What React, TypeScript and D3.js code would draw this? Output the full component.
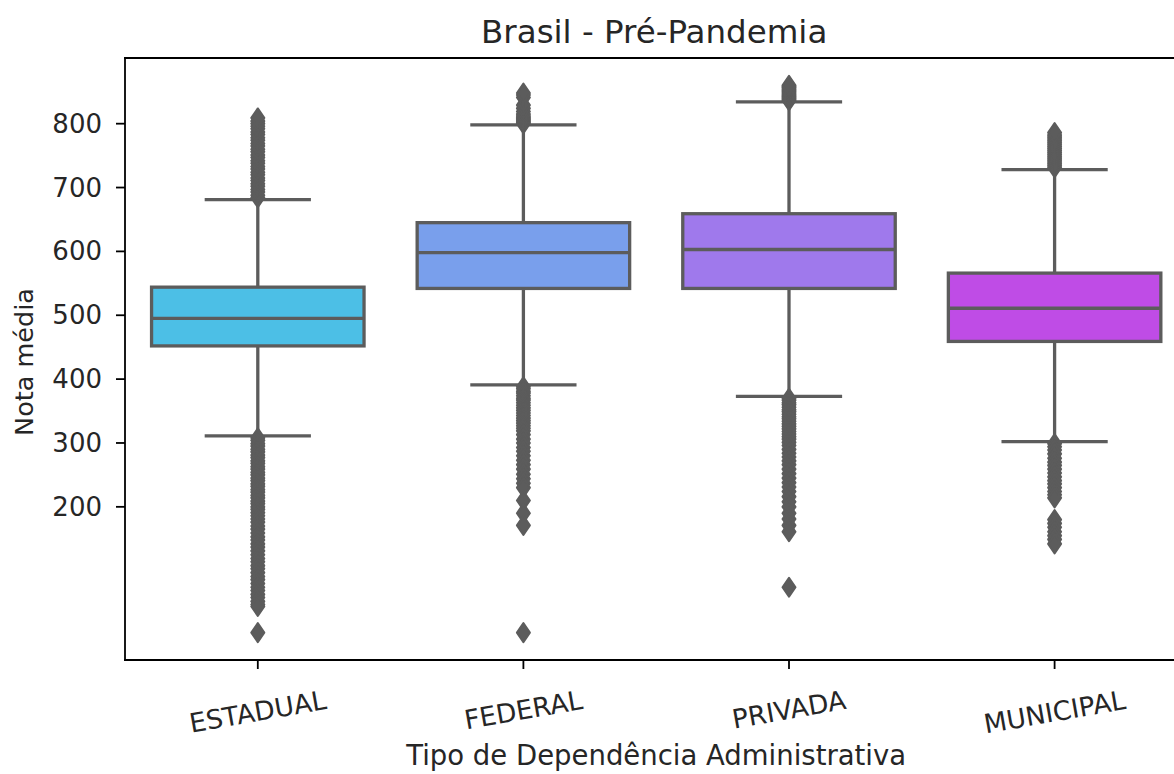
import React, { useEffect, useRef } from "react";
import * as d3 from "d3";

const categories = ["ESTADUAL", "FEDERAL", "PRIVADA", "MUNICIPAL"];
const q1 = [452, 542, 542, 459];
const medians = [495, 598, 603, 511];
const q3 = [544, 645, 659, 566];
const whiskerLow = [311, 391, 373, 302];
const whiskerHigh = [681, 798, 834, 728];
const yTicks = [200, 300, 400, 500, 600, 700, 800];
const boxColors = ["#4cbfe6", "#799fec", "#9f79ec", "#bf4ce6"];

const estadualOutliers = [
  684, 688, 693, 697, 702, 706, 711, 715, 720, 724, 729, 733, 738, 742, 747, 751, 756, 760, 765, 769,
  774, 778, 783, 787, 792, 796, 800, 804, 809,
  308, 304, 299, 295, 290, 286, 281, 277, 272, 268, 263, 259, 254, 250, 245, 241, 236, 232, 227, 223,
  218, 214, 209, 205, 200, 196, 191, 186, 181, 176, 170, 165, 159, 153, 148, 142, 137, 131, 125, 119,
  114, 108, 103, 97, 91, 86, 80, 74, 69, 63, 58, 52, 47, 44, 3,
];
const federalOutliers = [
  800, 802, 804, 806, 808, 810, 812, 815, 819, 824, 829, 841, 845, 848,
  388, 385, 381, 378, 374, 370, 367, 363, 359, 355, 351, 347, 343, 339, 335, 331, 327, 323, 319, 313,
  306, 300, 293, 287, 280, 273, 266, 259, 251, 244, 237, 230, 210, 190, 171, 3,
];
const privadaOutliers = [
  836, 838, 840, 842, 844, 846, 848, 850, 852, 854, 856, 858, 860,
  370, 367, 363, 360, 356, 352, 349, 345, 341, 338, 334, 330, 326, 322, 318, 314, 310, 306, 301, 296,
  290, 284, 278, 272, 266, 259, 252, 245, 238, 231, 224, 216, 208, 200, 190, 181, 171, 161, 74,
];
const municipalOutliers = [
  731, 734, 737, 740, 743, 746, 749, 752, 755, 758, 761, 764, 767, 770, 773, 776, 779, 782, 786,
  299, 294, 289, 283, 276, 270, 265, 259, 253, 247, 241, 236, 230, 224, 219, 214,
  180, 174, 168, 161, 155, 149, 142,
];
const outliers = [estadualOutliers, federalOutliers, privadaOutliers, municipalOutliers];

const W = 1174;
const H = 774;
const FONT = "DejaVu Sans, sans-serif";
const GRAY = "#5c5c5c";

export default function App() {
  const ref = useRef<SVGSVGElement>(null);

  useEffect(() => {
    const svg = d3.select(ref.current);
    svg.selectAll("*").remove();

    const left = 125;
    const right = 1187.4;
    const top = 58;
    const bottom = 660;

    const x = d3.scaleBand<string>().domain(categories).range([left, right]).padding(0);
    const bw = x.bandwidth();
    const allVals = outliers.flat();
    const mn = d3.min(allVals) as number;
    const mx = d3.max(allVals) as number;
    const r = mx - mn;
    const y = d3.scaleLinear().domain([mn - 0.05 * r, mx + 0.05 * r]).range([bottom, top]);

    const g = svg.append("g");
    const lw = 3.3;

    categories.forEach((c, i) => {
      const cx = (x(c) as number) + bw / 2;
      const half = bw * 0.4;
      g.append("rect")
        .attr("x", cx - half)
        .attr("y", y(q3[i]))
        .attr("width", half * 2)
        .attr("height", y(q1[i]) - y(q3[i]))
        .attr("fill", boxColors[i])
        .attr("stroke", GRAY)
        .attr("stroke-width", lw);
      g.append("line").attr("x1", cx).attr("x2", cx).attr("y1", y(q1[i])).attr("y2", y(whiskerLow[i]))
        .attr("stroke", GRAY).attr("stroke-width", lw);
      g.append("line").attr("x1", cx).attr("x2", cx).attr("y1", y(q3[i])).attr("y2", y(whiskerHigh[i]))
        .attr("stroke", GRAY).attr("stroke-width", lw);
      [whiskerLow[i], whiskerHigh[i]].forEach((v) => {
        g.append("line").attr("x1", cx - half / 2).attr("x2", cx + half / 2).attr("y1", y(v)).attr("y2", y(v))
          .attr("stroke", GRAY).attr("stroke-width", lw);
      });
      g.append("line").attr("x1", cx - half).attr("x2", cx + half).attr("y1", y(medians[i])).attr("y2", y(medians[i]))
        .attr("stroke", GRAY).attr("stroke-width", lw);
      g.selectAll(null)
        .data(outliers[i])
        .enter()
        .append("path")
        .attr("d", "M0,-9.5L6.5,0L0,9.5L-6.5,0Z")
        .attr("transform", (v) => `translate(${cx},${y(v)})`)
        .attr("fill", GRAY)
        .attr("stroke", GRAY)
        .attr("stroke-width", 2)
        .attr("stroke-linejoin", "round");
    });

    const spineW = 1.8;
    svg.append("line").attr("x1", left).attr("x2", left).attr("y1", top).attr("y2", bottom)
      .attr("stroke", "#000").attr("stroke-width", spineW).attr("stroke-linecap", "square");
    svg.append("line").attr("x1", left).attr("x2", right).attr("y1", bottom).attr("y2", bottom)
      .attr("stroke", "#000").attr("stroke-width", spineW).attr("stroke-linecap", "square");
    svg.append("line").attr("x1", left).attr("x2", right).attr("y1", top).attr("y2", top)
      .attr("stroke", "#000").attr("stroke-width", spineW).attr("stroke-linecap", "square");
    svg.append("line").attr("x1", right).attr("x2", right).attr("y1", top).attr("y2", bottom)
      .attr("stroke", "#000").attr("stroke-width", spineW);

    const tickFont = 26;
    yTicks.forEach((t) => {
      svg.append("line").attr("x1", left - 9).attr("x2", left).attr("y1", y(t)).attr("y2", y(t))
        .attr("stroke", "#000").attr("stroke-width", spineW);
      svg.append("text")
        .attr("x", left - 23)
        .attr("y", y(t))
        .attr("text-anchor", "end")
        .attr("dominant-baseline", "central")
        .attr("font-family", FONT)
        .attr("font-size", tickFont)
        .attr("fill", "#262626")
        .text(String(t));
    });

    const angle = 10;
    const rad = (angle * Math.PI) / 180;
    categories.forEach((c) => {
      const cx = (x(c) as number) + bw / 2;
      svg.append("line").attr("x1", cx).attr("x2", cx).attr("y1", bottom).attr("y2", bottom + 9)
        .attr("stroke", "#000").attr("stroke-width", spineW);
      const t = svg.append("text")
        .attr("text-anchor", "middle")
        .attr("dominant-baseline", "central")
        .attr("font-family", FONT)
        .attr("font-size", 26.5)
        .attr("fill", "#262626")
        .text(c);
      const w = (t.node() as SVGTextElement).getComputedTextLength();
      const h = 26.5 * 1.1;
      const bh = w * Math.sin(rad) + h * Math.cos(rad);
      const cy = 685 + bh / 2;
      t.attr("transform", `translate(${cx},${cy}) rotate(${-angle})`);
    });

    svg.append("text")
      .attr("x", (left + right) / 2)
      .attr("y", 765)
      .attr("text-anchor", "middle")
      .attr("font-family", FONT)
      .attr("font-size", 27.5)
      .attr("fill", "#262626")
      .text("Tipo de Dependência Administrativa");

    svg.append("text")
      .attr("transform", `translate(33,${(top + bottom) / 2 + 3}) rotate(-90)`)
      .attr("text-anchor", "middle")
      .attr("font-family", FONT)
      .attr("font-size", 25.5)
      .attr("fill", "#262626")
      .text("Nota média");

    svg.append("text")
      .attr("x", (left + right) / 2 - 2)
      .attr("y", 43)
      .attr("text-anchor", "middle")
      .attr("font-family", FONT)
      .attr("font-size", 32.5)
      .attr("fill", "#262626")
      .text("Brasil - Pré-Pandemia");
  }, []);

  return (
    <svg
      ref={ref}
      width={W}
      height={H}
      style={{ position: "absolute", left: 0, top: 0, background: "#fff", display: "block" }}
    />
  );
}
